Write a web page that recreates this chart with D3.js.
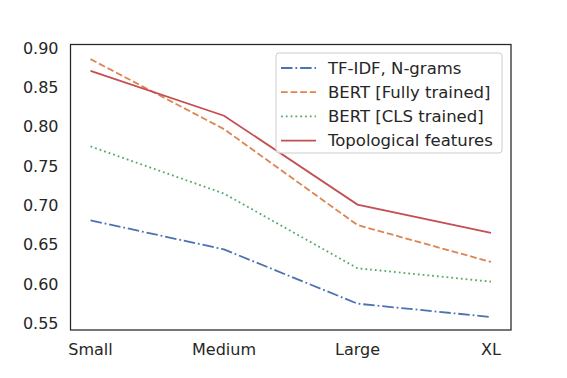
<!DOCTYPE html>
<html>
<head>
<meta charset="utf-8">
<script src="https://cdn.jsdelivr.net/npm/d3@7"></script>
<style>
  body { margin: 0; background: #fff; }
  svg { font-family: "DejaVu Sans", sans-serif; }
</style>
</head>
<body>
<div id="chart"></div>
<script>
var categories = ["Small", "Medium", "Large", "XL"];
var tfidf = [0.681, 0.644, 0.575, 0.558];
var bertFull = [0.886, 0.797, 0.675, 0.628];
var bertCls = [0.775, 0.715, 0.620, 0.603];
var topo = [0.871, 0.814, 0.701, 0.665];
var yTicks = [0.55, 0.60, 0.65, 0.70, 0.75, 0.80, 0.85, 0.90];

var series = [
  {name: "TF-IDF, N-grams", values: tfidf, color: "#4C72B0", dash: "11.5,2.9,1.8,2.9"},
  {name: "BERT [Fully trained]", values: bertFull, color: "#DD8452", dash: "6.7,2.9"},
  {name: "BERT [CLS trained]", values: bertCls, color: "#55A868", dash: "1.8,3"},
  {name: "Topological features", values: topo, color: "#C44E52", dash: null}
];

var width = 567, height = 378;
var margin = {top: 44.5, right: 56, bottom: 48, left: 70.5};

var svg = d3.select("#chart").append("svg")
    .attr("width", width)
    .attr("height", height);

// 5% margin on each side, like matplotlib
var span = (width - margin.right) - margin.left;
var x = d3.scalePoint()
    .domain(categories)
    .range([margin.left + span * 0.05 / 1.1, width - margin.right - span * 0.05 / 1.1]);

var y = d3.scaleLinear()
    .domain([0.5415, 0.9046])
    .range([height - margin.bottom, margin.top]);

// y tick labels
svg.append("g")
  .selectAll("text")
  .data(yTicks)
  .enter().append("text")
    .attr("x", margin.left - 12)
    .attr("y", d => y(d))
    .attr("dy", "0.35em")
    .attr("text-anchor", "end")
    .attr("font-size", 16)
    .attr("fill", "#262626")
    .text(d => d3.format(".2f")(d));

// x tick labels
svg.append("g")
  .selectAll("text")
  .data(categories)
  .enter().append("text")
    .attr("x", d => x(d))
    .attr("y", height - margin.bottom + 19)
    .attr("dy", "0.35em")
    .attr("text-anchor", "middle")
    .attr("font-size", 16)
    .attr("fill", "#262626")
    .text(d => d);

var line = d3.line()
    .x((d, i) => x(categories[i]))
    .y(d => y(d));

svg.append("g")
  .selectAll("path")
  .data(series)
  .enter().append("path")
    .attr("d", d => line(d.values))
    .attr("fill", "none")
    .attr("stroke", d => d.color)
    .attr("stroke-width", 1.8)
    .attr("stroke-dasharray", d => d.dash);

// frame
svg.append("rect")
    .attr("x", margin.left)
    .attr("y", margin.top)
    .attr("width", width - margin.right - margin.left)
    .attr("height", height - margin.bottom - margin.top)
    .attr("fill", "none")
    .attr("stroke", "#262626")
    .attr("stroke-width", 1.25);

// legend
var lg = svg.append("g").attr("transform", "translate(276,53)");
lg.append("rect")
    .attr("width", 226)
    .attr("height", 100)
    .attr("rx", 3)
    .attr("fill", "#fff")
    .attr("fill-opacity", 0.8)
    .attr("stroke", "#cccccc")
    .attr("stroke-width", 1);

var items = lg.selectAll("g.item")
  .data(series)
  .enter().append("g")
    .attr("transform", (d, i) => `translate(0,${15 + i * 24.2})`);

items.append("line")
    .attr("x1", 5).attr("x2", 40)
    .attr("stroke", d => d.color)
    .attr("stroke-width", 1.8)
    .attr("stroke-dasharray", d => d.dash);

items.append("text")
    .attr("x", 52)
    .attr("dy", "0.35em")
    .attr("font-size", 16.5)
    .attr("fill", "#262626")
    .text(d => d.name);
</script>
</body>
</html>
